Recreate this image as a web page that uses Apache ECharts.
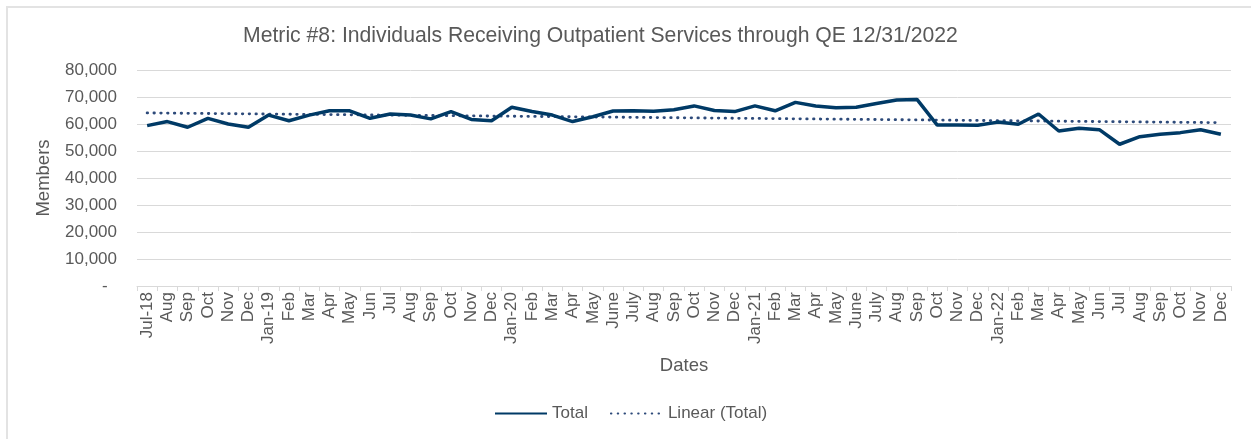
<!DOCTYPE html>
<html>
<head>
<meta charset="utf-8">
<script src="https://cdn.jsdelivr.net/npm/echarts@6/dist/echarts.min.js"></script>
<style>
  html, body { margin: 0; padding: 0; overflow: hidden; background: #fff; }
  #frame {
    position: absolute; left: 6px; top: 6px; width: 1400px; height: 600px;
    border-left: 2px solid #e3e3e3; border-top: 2px solid #e3e3e3;
  }
  #chart { position: absolute; left: 0; top: 0; width: 1251px; height: 439px; }
</style>
</head>
<body>
<div id="frame"></div>
<div id="chart"></div>
<script>
// month labels as printed on the axis
const months = [
  "Jul-18", "Aug", "Sep", "Oct", "Nov", "Dec",
  "Jan-19", "Feb", "Mar", "Apr", "May", "Jun", "Jul", "Aug", "Sep", "Oct", "Nov", "Dec",
  "Jan-20", "Feb", "Mar", "Apr", "May", "June", "July", "Aug", "Sep", "Oct", "Nov", "Dec",
  "Jan-21", "Feb", "Mar", "Apr", "May", "June", "July", "Aug", "Sep", "Oct", "Nov", "Dec",
  "Jan-22", "Feb", "Mar", "Apr", "May", "Jun", "Jul", "Aug", "Sep", "Oct", "Nov", "Dec",
];

// members per month
const total = [
  59400, 60900, 58800, 62100, 60000, 58800,
  63300, 61200, 63300, 64900, 64900, 62100, 63700, 63300, 61900, 64600, 61700, 61200,
  66200, 64600, 63300, 60900, 62700, 64800, 64900, 64700, 65300, 66700, 65000, 64600,
  66700, 64900, 68000, 66700, 66000, 66200, 67600, 68900, 69100, 59600, 59600, 59500,
  60700, 59900, 63700, 57400, 58400, 57900, 52500, 55300, 56200, 56800, 57900, 56200,
];

// trend line end points: [category index, value]
const trend = [
  [0, 64100],
  [53, 60500],
];

const yTicks = [0, 10000, 20000, 30000, 40000, 50000, 60000, 70000, 80000];

const grey = "#595959";
const chart = echarts.init(document.getElementById("chart"));

chart.setOption({
  animation: false,
  textStyle: { fontFamily: "Liberation Sans, Arial, sans-serif" },
  title: {
    text: "Metric #8: Individuals Receiving Outpatient Services through QE 12/31/2022",
    left: 238,
    top: 21,
    textStyle: { color: grey, fontSize: 21.2, fontWeight: "normal" },
  },
  grid: { left: 137, right: 20, top: 70, bottom: 153 },
  legend: {
    bottom: 12,
    left: 489,
    itemWidth: 52,
    itemHeight: 10,
    itemGap: 22,
    itemStyle: { opacity: 0 },
    textStyle: { color: grey, fontSize: 17 },
    data: ["Total", "Linear (Total)"],
  },
  xAxis: {
    type: "category",
    data: months,
    boundaryGap: true,
    name: "Dates",
    nameLocation: "middle",
    nameGap: 70,
    nameTextStyle: { color: grey, fontSize: 18.5 },
    axisLine: { lineStyle: { color: "#d9d9d9" } },
    axisTick: { show: true, interval: 0, length: 5, lineStyle: { color: "#d9d9d9" } },
    axisLabel: { interval: 0, rotate: 90, color: grey, fontSize: 17, margin: 6 },
  },
  yAxis: {
    type: "value",
    min: yTicks[0],
    max: yTicks[yTicks.length - 1],
    interval: 10000,
    name: "Members",
    nameLocation: "middle",
    nameGap: 84,
    nameTextStyle: { color: grey, fontSize: 18.5 },
    axisLine: { show: false },
    axisTick: { show: false },
    splitLine: { lineStyle: { color: "#d9d9d9" } },
    axisLabel: {
      color: grey,
      fontSize: 17,
      margin: 20,
      formatter: (v) => (v === 0 ? "-  " : v.toLocaleString("en-US")),
    },
  },
  series: [
    {
      name: "Total",
      type: "line",
      data: total,
      symbol: "none",
      lineStyle: { color: "#003a66", width: 3.5 },
      itemStyle: { color: "#003a66" },
      z: 3,
    },
    {
      name: "Linear (Total)",
      type: "line",
      data: trend,
      symbol: "none",
      lineStyle: { color: "#2d4a7a", width: 2.8, type: [0.5, 6.3], cap: "round" },
      itemStyle: { color: "#2d4a7a" },
      z: 2,
    },
  ],
});
</script>
</body>
</html>
